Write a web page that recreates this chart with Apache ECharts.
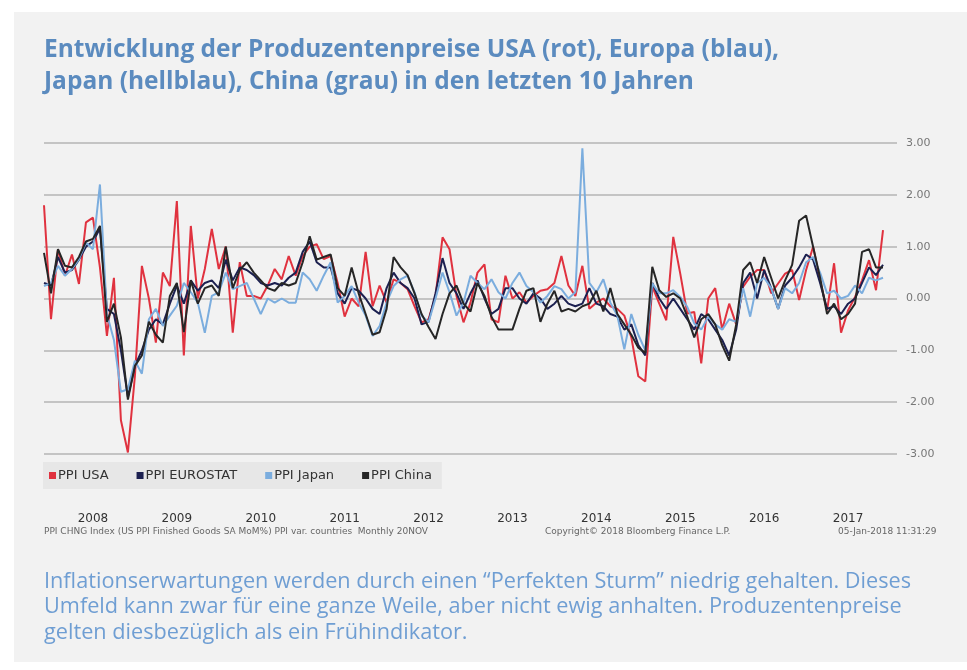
<!DOCTYPE html>
<html>
<head>
<meta charset="utf-8">
<script src="https://cdn.jsdelivr.net/npm/echarts@6/dist/echarts.min.js"></script>
<style>
html, body { margin: 0; padding: 0; background: #fff; }
#chart { width: 967px; height: 670px; }
</style>
</head>
<body>
<div id="chart"></div>
<script>
// monthly PPI change in %, Dec 2007 .. Dec 2017
const years = [2008, 2009, 2010, 2011, 2012, 2013, 2014, 2015, 2016, 2017];
const monthNames = ['Jan', 'Feb', 'Mar', 'Apr', 'May', 'Jun', 'Jul', 'Aug', 'Sep', 'Oct', 'Nov', 'Dec'];
const yTicks = [-3, -2, -1, 0, 1, 2, 3];

const ppiUSA = [1.8, -0.4, 0.95, 0.44, 0.85, 0.28, 1.47, 1.56, 0.6, -0.72,
    0.4, -2.35, -2.97, -1.5, 0.63, 0.0, -0.85, 0.5, 0.24, 1.88,
    -1.1, 1.4, 0.0, 0.57, 1.34, 0.57, 1.0, -0.66, 0.7, 0.05,
    0.05, 0.0, 0.25, 0.57, 0.37, 0.82, 0.44, 0.82, 1.0, 1.05,
    0.76, 0.82, 0.3, -0.35, 0.0, -0.15, 0.9, -0.15, 0.25, -0.08,
    0.37, 0.3, 0.18, -0.15, -0.46, -0.4, 0.05, 1.18, 0.95, 0.05,
    -0.46, -0.08, 0.5, 0.66, -0.4, -0.46, 0.44, 0.0, 0.12, -0.08,
    0.05, 0.15, 0.18, 0.3, 0.82, 0.25, 0.05, 0.63, -0.2, -0.08,
    0.0, -0.15, -0.2, -0.33, -0.75, -1.5, -1.6, 0.23, -0.1, -0.42,
    1.19, 0.48, -0.29, -0.26, -1.25, 0.0, 0.2, -0.6, -0.1, -0.5,
    0.23, 0.42, 0.55, 0.55, 0.1, 0.29, 0.48, 0.55, -0.03, 0.55,
    1.0, 0.35, -0.23, 0.68, -0.66, -0.23, 0.03, 0.35, 0.74, 0.16,
    1.32];

const ppiEurostat = [0.3, 0.25, 0.8, 0.5, 0.55, 0.75, 1.0, 1.1, 1.35, -0.2,
    -0.3, -1.0, -1.9, -1.3, -1.0, -0.6, -0.4, -0.5, -0.1, 0.25,
    -0.1, 0.35, 0.15, 0.3, 0.35, 0.2, 0.75, 0.35, 0.6, 0.55,
    0.45, 0.3, 0.25, 0.3, 0.25, 0.4, 0.5, 0.9, 1.1, 0.7,
    0.6, 0.6, 0.1, -0.1, 0.2, 0.15, 0.0, -0.2, -0.3, 0.2,
    0.5, 0.3, 0.2, 0.0, -0.5, -0.45, 0.1, 0.78, 0.3, 0.1,
    -0.2, 0.1, 0.35, 0.0, -0.3, -0.2, 0.2, 0.2, 0.0, -0.1,
    0.1, 0.0, -0.2, -0.1, 0.05, -0.1, -0.15, -0.1, 0.2, -0.1,
    -0.15, -0.3, -0.35, -0.6, -0.5, -0.9, -1.1, 0.3, 0.0, -0.2,
    0.0, -0.2, -0.4, -0.6, -0.3, -0.4, -0.6, -0.8, -1.1, -0.6,
    0.3, 0.5, 0.0, 0.55, 0.2, -0.2, 0.25, 0.4, 0.6, 0.85,
    0.75, 0.3, -0.2, -0.15, -0.3, -0.1, 0.0, 0.3, 0.6, 0.45,
    0.65];

const ppiJapan = [0.24, 0.3, 0.63, 0.44, 0.57, 0.76, 1.08, 0.95, 2.2, -0.3,
    -0.8, -1.8, -1.75, -1.2, -1.45, -0.4, -0.2, -0.53, -0.33, -0.14,
    0.3, 0.12, -0.08, -0.66, 0.05, 0.12, 0.5, 0.18, 0.24, 0.3,
    0.0, -0.3, 0.0, -0.08, 0.0, -0.08, -0.08, 0.5, 0.37, 0.15,
    0.44, 0.7, -0.08, 0.05, 0.24, -0.08, -0.33, -0.72, -0.53, -0.08,
    0.24, 0.37, 0.44, 0.12, -0.33, -0.46, 0.0, 0.5, 0.12, -0.33,
    -0.08, 0.44, 0.3, 0.18, 0.37, 0.12, 0.0, 0.3, 0.5, 0.24,
    0.12, -0.08, 0.05, 0.24, 0.18, 0.0, 0.12, 2.9, 0.3, 0.12,
    0.37, -0.08, -0.33, -0.98, -0.3, -0.7, -1.0, 0.29, 0.1, 0.1,
    0.16, 0.03, -0.16, -0.48, -0.6, -0.35, -0.5, -0.6, -0.4, -0.45,
    0.2, -0.35, 0.3, 0.4, 0.2, -0.2, 0.2, 0.1, 0.3, 0.7,
    0.8, 0.5, 0.1, 0.15, 0.0, 0.05, 0.25, 0.1, 0.4, 0.35,
    0.4];

const ppiChina = [0.88, 0.1, 0.95, 0.63, 0.6, 0.8, 1.1, 1.15, 1.4, -0.45,
    -0.1, -0.75, -1.95, -1.3, -1.1, -0.45, -0.7, -0.85, 0.05, 0.3,
    -0.65, 0.35, -0.1, 0.2, 0.25, 0.05, 1.0, 0.2, 0.55, 0.7,
    0.5, 0.35, 0.2, 0.15, 0.3, 0.25, 0.3, 0.7, 1.2, 0.75,
    0.8, 0.85, 0.2, 0.05, 0.6, 0.1, -0.3, -0.7, -0.65, -0.2,
    0.8, 0.6, 0.45, 0.1, -0.3, -0.55, -0.78, -0.3, 0.1, 0.25,
    -0.1, -0.25, 0.3, 0.05, -0.35, -0.6, -0.6, -0.6, -0.2, 0.15,
    0.2, -0.45, -0.1, 0.15, -0.25, -0.2, -0.25, -0.15, -0.1, 0.15,
    -0.25, 0.2, -0.3, -0.5, -0.7, -0.95, -1.05, 0.61, 0.16, 0.03,
    0.1, 0.0, -0.35, -0.75, -0.4, -0.3, -0.5, -0.9, -1.2, -0.5,
    0.55, 0.7, 0.3, 0.8, 0.4, 0.0, 0.35, 0.65, 1.5, 1.6,
    1.0, 0.4, -0.3, -0.1, -0.4, -0.3, -0.1, 0.9, 0.95, 0.6,
    0.6];

// category axis runs a little past the last month, like the original
const categories = ['Dec 2007'];
years.forEach(y => monthNames.forEach(m => categories.push(m + ' ' + y)));
categories.push('Jan 2018', 'Feb 2018');

const titleText = 'Entwicklung der Produzentenpreise USA (rot), Europa (blau),\nJapan (hellblau), China (grau) in den letzten 10 Jahren';
const captionText = 'Inflationserwartungen werden durch einen \u201CPerfekten Sturm\u201D niedrig gehalten. Dieses\nUmfeld kann zwar f\u00FCr eine ganze Weile, aber nicht ewig anhalten. Produzentenpreise\ngelten diesbez\u00FCglich als ein Fr\u00FChindikator.';

const chart = echarts.init(document.getElementById('chart'));

const option = {
    animation: false,
    backgroundColor: '#ffffff',
    textStyle: {fontFamily: 'DejaVu Sans'},
    grid: {left: 44, right: 70, top: 143, bottom: 216, containLabel: false},
    legend: {
        left: 43,
        top: 462,
        padding: [7, 10, 7, 6],
        backgroundColor: '#e7e7e7',
        icon: 'rect',
        itemWidth: 7,
        itemHeight: 7,
        itemGap: 28,
        textStyle: {color: '#333', fontSize: 13, fontFamily: 'DejaVu Sans', padding: [0, 0, 0, -3]},
        data: ['PPI USA', 'PPI EUROSTAT', 'PPI Japan', 'PPI China']
    },
    xAxis: {
        type: 'category',
        boundaryGap: false,
        data: categories,
        axisLine: {show: false},
        axisTick: {show: false},
        splitLine: {show: false},
        axisLabel: {
            interval: (idx, val) => val.indexOf('Jul') === 0,
            formatter: val => val.slice(4),
            margin: 59,
            color: '#333',
            fontSize: 12,
            fontFamily: 'DejaVu Sans'
        }
    },
    yAxis: {
        type: 'value',
        position: 'right',
        min: yTicks[0],
        max: yTicks[yTicks.length - 1],
        interval: 1,
        axisLine: {show: false},
        axisTick: {show: false},
        splitLine: {lineStyle: {color: '#c4c4c4', width: 2}},
        axisLabel: {
            margin: 9,
            color: '#777',
            fontSize: 11,
            fontFamily: 'DejaVu Sans',
            formatter: v => v.toFixed(2)
        }
    },
    series: [
        {name: 'PPI USA', type: 'line', data: ppiUSA, color: '#e0323f'},
        {name: 'PPI EUROSTAT', type: 'line', data: ppiEurostat, color: '#1c2050'},
        {name: 'PPI Japan', type: 'line', data: ppiJapan, color: '#7badde'},
        {name: 'PPI China', type: 'line', data: ppiChina, color: '#262626'}
    ].map(s => Object.assign(s, {
        symbol: 'none',
        lineStyle: {width: 2},
        emphasis: {disabled: true}
    })),
    graphic: [
        {type: 'rect', z: -10, shape: {x: 14, y: 12, width: 953, height: 650}, style: {fill: '#f2f2f2'}},
        {type: 'text', left: 44, top: 34, style: {
            text: titleText, fill: '#5b8bbf', font: 'bold 24.5px "Open Sans"', lineHeight: 32}},
        {type: 'text', left: 44, top: 527, style: {
            text: 'PPI CHNG Index (US PPI Finished Goods SA MoM%) PPI var. countries  Monthly 20NOV',
            fill: '#666', font: '9px "DejaVu Sans"'}},
        {type: 'text', left: 545, top: 527, style: {
            text: 'Copyright\u00A9 2018 Bloomberg Finance L.P.', fill: '#666', font: '9px "DejaVu Sans"'}},
        {type: 'text', left: 838, top: 527, style: {
            text: '05-Jan-2018 11:31:29', fill: '#666', font: '9px "DejaVu Sans"'}},
        {type: 'text', left: 44, top: 569, style: {
            text: captionText, fill: '#6f9ed3', font: '21.7px "Open Sans"', lineHeight: 25.5}}
    ]
};

chart.setOption(option);
</script>
</body>
</html>
